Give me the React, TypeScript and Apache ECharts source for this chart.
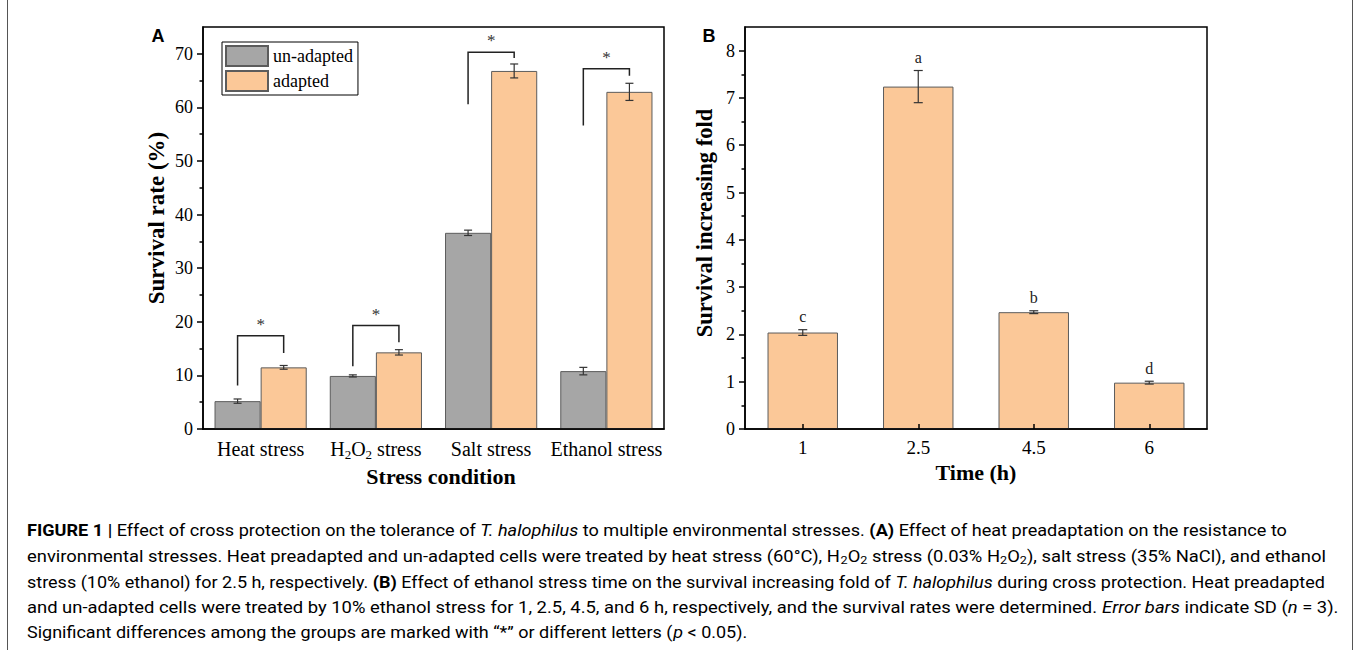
import { useEffect, useRef } from 'react';
import * as echarts from 'echarts';

// ---------- Panel A data ----------
const stressCategories = ['Heat stress', 'H2O2 stress', 'Salt stress', 'Ethanol stress'];
const unadaptedValues = [5.2, 9.9, 36.6, 10.8];
const unadaptedErrors = [0.4, 0.2, 0.5, 0.7];
const adaptedValues = [11.5, 14.3, 66.8, 62.9];
const adaptedErrors = [0.35, 0.5, 1.3, 1.6];
const bracketLeftEnd = [8.1, 11.7, 60.6, 56.6];
const bracketTop = [17.4, 19.3, 70.3, 67.2];
const bracketRightEnd = [14.2, 16.2, 69.2, 65.9];
const significanceMarks = ['*', '*', '*', '*'];
const survivalTicks = [0, 10, 20, 30, 40, 50, 60, 70];
const survivalMinorTicks = [5, 15, 25, 35, 45, 55, 65];

// ---------- Panel B data ----------
const timeCategories = ['1', '2.5', '4.5', '6'];
const foldValues = [2.04, 7.24, 2.47, 0.98];
const foldErrors = [0.06, 0.34, 0.03, 0.03];
const foldLetters = ['c', 'a', 'b', 'd'];
const foldTicks = [0, 1, 2, 3, 4, 5, 6, 7, 8];
const foldMinorTicks = [0.5, 1.5, 2.5, 3.5, 4.5, 5.5, 6.5, 7.5];

// ---------- Caption ----------
const captionLines: [string, string][][] = [
  [['b', 'FIGURE 1 | '], ['n', 'Effect of cross protection on the tolerance of '], ['i', 'T. halophilus'], ['n', ' to multiple environmental stresses. '], ['b', '(A)'], ['n', ' Effect of heat preadaptation on the resistance to']],
  [['n', 'environmental stresses. Heat preadapted and un-adapted cells were treated by heat stress (60°C), H'], ['s', '2'], ['n', 'O'], ['s', '2'], ['n', ' stress (0.03% H'], ['s', '2'], ['n', 'O'], ['s', '2'], ['n', '), salt stress (35% NaCl), and ethanol']],
  [['n', 'stress (10% ethanol) for 2.5 h, respectively. '], ['b', '(B)'], ['n', ' Effect of ethanol stress time on the survival increasing fold of '], ['i', 'T. halophilus'], ['n', ' during cross protection. Heat preadapted']],
  [['n', 'and un-adapted cells were treated by 10% ethanol stress for 1, 2.5, 4.5, and 6 h, respectively, and the survival rates were determined. '], ['i', 'Error bars'], ['n', ' indicate SD ('], ['i', 'n'], ['n', ' = 3).']],
  [['n', 'Significant differences among the groups are marked with “*” or different letters ('], ['i', 'p'], ['n', ' < 0.05).']],
];

const SERIF = '"Liberation Serif", "Times New Roman", serif';
const SANS = '"Liberation Sans", Arial, sans-serif';
const CAP_FONT = 'Roboto';
const GRAY = '#a6a6a6';
const ORANGE = '#fbc898';

function toRich(label: string): string {
  const parts: string[] = [];
  let buf = '';
  for (let k = 0; k < label.length; k++) {
    const ch = label[k];
    if (/\d/.test(ch) && k > 0 && /[A-Za-z]/.test(label[k - 1])) {
      if (buf) parts.push(`{n|${buf}}`);
      buf = '';
      parts.push(`{s|${ch}}`);
    } else buf += ch;
  }
  if (buf) parts.push(`{n|${buf}}`);
  return parts.join('');
}

function capFont(style: string): string {
  if (style === 'b') return `bold 16px ${CAP_FONT}`;
  if (style === 'i') return `italic 16px ${CAP_FONT}`;
  if (style === 's') return `11px ${CAP_FONT}`;
  return `16px ${CAP_FONT}`;
}

export default function App() {
  const ref = useRef<HTMLDivElement>(null);
  useEffect(() => {
    if (!ref.current) return;
    const chart = echarts.init(ref.current, undefined, { renderer: 'svg' });

    // caption horizontal fit (right edges of each caption line)
    const ctx = document.createElement('canvas').getContext('2d')!;
    const measure = (line: [string, string][]) =>
      line.reduce((w, [st, t]) => {
        ctx.font = capFont(st);
        return w + ctx.measureText(t).width;
      }, 0);
    const captionLeft = 27;
    const captionRight = [1287, 1326, 1325, 1339, 747];
    const scales = captionRight.map((r, k) => (r - captionLeft) / measure(captionLines[k]));
    const capRich = {
      n: { fontFamily: CAP_FONT, fontSize: 16, lineHeight: 20, color: '#333' },
      b: { fontFamily: CAP_FONT, fontSize: 16, fontWeight: 'bold', lineHeight: 20, color: '#333' },
      i: { fontFamily: CAP_FONT, fontSize: 16, fontStyle: 'italic', lineHeight: 20, color: '#333' },
      s: { fontFamily: CAP_FONT, fontSize: 11, lineHeight: 11, verticalAlign: 'bottom', color: '#333' },
    };
    const captionY = [530, 556, 582, 607, 632];
    const captionGraphics = captionLines.map((line, k) => ({
      type: 'text',
      x: captionLeft,
      y: captionY[k],
      scaleX: scales[k],
      style: {
        text: line.map(([st, t]) => `{${st}|${t}}`).join(''),
        rich: capRich,
        verticalAlign: 'middle',
        align: 'left',
      },
    }));

    const tickLabel = { color: '#000', fontFamily: SERIF, fontSize: 18 };
    const axisLineStyle = { lineStyle: { color: '#000', width: 1.5 } };

    const errA: number[][] = [];
    unadaptedValues.forEach((v, i) => errA.push([i, v, unadaptedErrors[i], 0]));
    adaptedValues.forEach((v, i) => errA.push([i, v, adaptedErrors[i], 1]));

    const errStyle = { stroke: '#333', lineWidth: 1.2 };
    const errorBar = (x: number, yt: number, yb: number, cap: number) => [
      { type: 'line', shape: { x1: x, y1: yt, x2: x, y2: yb }, style: errStyle },
      { type: 'line', shape: { x1: x - cap, y1: yt, x2: x + cap, y2: yt }, style: errStyle },
      { type: 'line', shape: { x1: x - cap, y1: yb, x2: x + cap, y2: yb }, style: errStyle },
    ];

    const option: any = {
      animation: false,
      textStyle: { fontFamily: SERIF },
      grid: [
        { left: 203, top: 27, width: 461, height: 402, show: true, borderColor: '#000', borderWidth: 1.5, backgroundColor: 'transparent', outerBoundsMode: 'none' },
        { left: 745, top: 27, width: 462, height: 402, show: true, borderColor: '#000', borderWidth: 1.5, backgroundColor: 'transparent', outerBoundsMode: 'none' },
      ],
      legend: {
        data: ['un-adapted', 'adapted'],
        orient: 'vertical',
        left: 222,
        top: 42,
        itemWidth: 42,
        itemHeight: 20,
        itemGap: 3,
        padding: [3, 5, 3, 3],
        borderColor: '#000',
        borderWidth: 1,
        icon: 'rect',
        textStyle: { color: '#000', fontFamily: SERIF, fontSize: 18 },
      },
      xAxis: [
        {
          type: 'category',
          gridIndex: 0,
          data: stressCategories,
          z: 5,
          axisLine: axisLineStyle,
          axisTick: { show: false },
          axisLabel: {
            interval: 0,
            hideOverlap: false,
            margin: 8,
            formatter: (v: string) => toRich(v),
            rich: {
              n: { fontFamily: SERIF, fontSize: 20, lineHeight: 24, color: '#000' },
              s: { fontFamily: SERIF, fontSize: 13, lineHeight: 13, verticalAlign: 'bottom', color: '#000' },
            },
          },
          name: 'Stress condition',
          nameLocation: 'middle',
          nameGap: 34,
          nameTextStyle: { fontFamily: SERIF, fontSize: 22, fontWeight: 'bold', color: '#000', padding: [0, 0, 0, 15] },
        },
        {
          type: 'category',
          gridIndex: 1,
          data: timeCategories,
          z: 5,
          axisLine: axisLineStyle,
          axisTick: { show: true, alignWithLabel: true, inside: true, length: 5, lineStyle: { color: '#000', width: 1.5 } },
          axisLabel: { interval: 0, margin: 9, color: '#000', fontFamily: SERIF, fontSize: 19 },
          name: 'Time (h)',
          nameLocation: 'middle',
          nameGap: 27,
          nameTextStyle: { fontFamily: SERIF, fontSize: 22, fontWeight: 'bold', color: '#000' },
        },
      ],
      yAxis: [
        {
          type: 'value',
          gridIndex: 0,
          position: 'left',
          min: 0,
          max: 75,
          z: 5,
          axisLine: { show: true, ...axisLineStyle },
          axisTick: { show: true, inside: false, length: 6, customValues: survivalTicks, lineStyle: { color: '#000', width: 1.5 } },
          axisLabel: { ...tickLabel, margin: 10, customValues: survivalTicks },
          splitLine: { show: false },
          name: 'Survival rate (%)',
          nameLocation: 'middle',
          nameGap: 35,
          nameTextStyle: { fontFamily: SERIF, fontSize: 23, fontWeight: 'bold', color: '#000', padding: [0, 0, 0, 20] },
        },
        {
          type: 'value',
          gridIndex: 0,
          position: 'left',
          min: 0,
          max: 75,
          z: 5,
          axisLine: { show: false },
          axisTick: { show: true, inside: false, length: 3.5, customValues: survivalMinorTicks, lineStyle: { color: '#000', width: 1.5 } },
          axisLabel: { show: false },
          splitLine: { show: false },
        },
        {
          type: 'value',
          gridIndex: 1,
          position: 'left',
          min: 0,
          max: 8.5,
          z: 5,
          axisLine: { show: true, ...axisLineStyle },
          axisTick: { show: true, inside: false, length: 6, customValues: foldTicks, lineStyle: { color: '#000', width: 1.5 } },
          axisLabel: { ...tickLabel, margin: 10, customValues: foldTicks },
          splitLine: { show: false },
          name: 'Survival increasing fold',
          nameLocation: 'middle',
          nameGap: 29,
          nameTextStyle: { fontFamily: SERIF, fontSize: 22.5, fontWeight: 'bold', color: '#000', padding: [0, 0, 0, 10] },
        },
        {
          type: 'value',
          gridIndex: 1,
          position: 'left',
          min: 0,
          max: 8.5,
          z: 5,
          axisLine: { show: false },
          axisTick: { show: true, inside: false, length: 3.5, customValues: foldMinorTicks, lineStyle: { color: '#000', width: 1.5 } },
          axisLabel: { show: false },
          splitLine: { show: false },
        },
      ],
      series: [
        {
          name: 'un-adapted',
          type: 'bar',
          xAxisIndex: 0,
          yAxisIndex: 0,
          data: unadaptedValues,
          barWidth: '40%',
          barGap: '0%',
          itemStyle: { color: GRAY, borderColor: '#5c5c5c', borderWidth: 1 },
        },
        {
          name: 'adapted',
          type: 'bar',
          xAxisIndex: 0,
          yAxisIndex: 0,
          data: adaptedValues,
          barWidth: '40%',
          barGap: '0%',
          itemStyle: { color: ORANGE, borderColor: '#5c5c5c', borderWidth: 1 },
        },
        {
          name: 'errA',
          type: 'custom',
          xAxisIndex: 0,
          yAxisIndex: 0,
          z: 10,
          silent: true,
          data: errA,
          renderItem: (_p: any, api: any) => {
            const i = api.value(0), v = api.value(1), e = api.value(2), side = api.value(3);
            const band = api.size([1, 0])[0];
            const c = api.coord([i, v]);
            const x = c[0] + (side === 0 ? -1 : 1) * band * 0.2;
            const yt = api.coord([i, v + e])[1];
            const yb = api.coord([i, v - e])[1];
            return { type: 'group', children: errorBar(x, yt, yb, 4) };
          },
        },
        {
          name: 'brackets',
          type: 'custom',
          xAxisIndex: 0,
          yAxisIndex: 0,
          z: 10,
          silent: true,
          data: stressCategories.map((_, i) => [i, bracketLeftEnd[i], bracketTop[i], bracketRightEnd[i]]),
          renderItem: (params: any, api: any) => {
            const i = api.value(0);
            const band = api.size([1, 0])[0];
            const cx = api.coord([i, 0])[0];
            const x0 = cx - band * 0.2, x1 = cx + band * 0.2;
            const yl = api.coord([i, api.value(1)])[1];
            const yt = api.coord([i, api.value(2)])[1];
            const yr = api.coord([i, api.value(3)])[1];
            return {
              type: 'group',
              children: [
                { type: 'polyline', shape: { points: [[x0, yl], [x0, yt], [x1, yt], [x1, yr]] }, style: { stroke: '#222', lineWidth: 1.5, fill: null } },
                {
                  type: 'text',
                  x: cx,
                  y: yt - 3,
                  style: { text: significanceMarks[params.dataIndex], align: 'center', verticalAlign: 'bottom', fontFamily: SERIF, fontSize: 17, fill: '#333' },
                },
              ],
            };
          },
        },
        {
          name: 'fold',
          type: 'bar',
          xAxisIndex: 1,
          yAxisIndex: 2,
          data: foldValues,
          barWidth: '61%',
          itemStyle: { color: ORANGE, borderColor: '#5c5c5c', borderWidth: 1 },
        },
        {
          name: 'errB',
          type: 'custom',
          xAxisIndex: 1,
          yAxisIndex: 2,
          z: 10,
          silent: true,
          data: foldValues.map((v, i) => [i, v, foldErrors[i]]),
          renderItem: (params: any, api: any) => {
            const i = api.value(0), v = api.value(1), e = api.value(2);
            const x = api.coord([i, v])[0];
            const yt = api.coord([i, v + e])[1];
            const yb = api.coord([i, v - e])[1];
            return {
              type: 'group',
              children: [
                ...errorBar(x, yt, yb, 4.5),
                {
                  type: 'text',
                  x,
                  y: yt - 5,
                  style: { text: foldLetters[params.dataIndex], align: 'center', verticalAlign: 'bottom', fontFamily: SERIF, fontSize: 16, fill: '#222' },
                },
              ],
            };
          },
        },
      ],
      graphic: [
        { type: 'text', x: 158, y: 36, style: { text: 'A', align: 'center', verticalAlign: 'middle', fontFamily: SANS, fontWeight: 'bold', fontSize: 18, fill: '#000' } },
        { type: 'text', x: 709, y: 36, style: { text: 'B', align: 'center', verticalAlign: 'middle', fontFamily: SANS, fontWeight: 'bold', fontSize: 18, fill: '#000' } },
        { type: 'line', shape: { x1: 7.5, y1: 0, x2: 7.5, y2: 650 }, style: { stroke: '#555', lineWidth: 1 } },
        { type: 'line', shape: { x1: 1352.5, y1: 0, x2: 1352.5, y2: 650 }, style: { stroke: '#555', lineWidth: 1 } },
        ...captionGraphics,
      ],
    };
    chart.setOption(option);
    return () => chart.dispose();
  }, []);
  return <div ref={ref} style={{ position: 'absolute', left: 0, top: 0, width: 1357, height: 650, background: '#fff' }} />;
}
